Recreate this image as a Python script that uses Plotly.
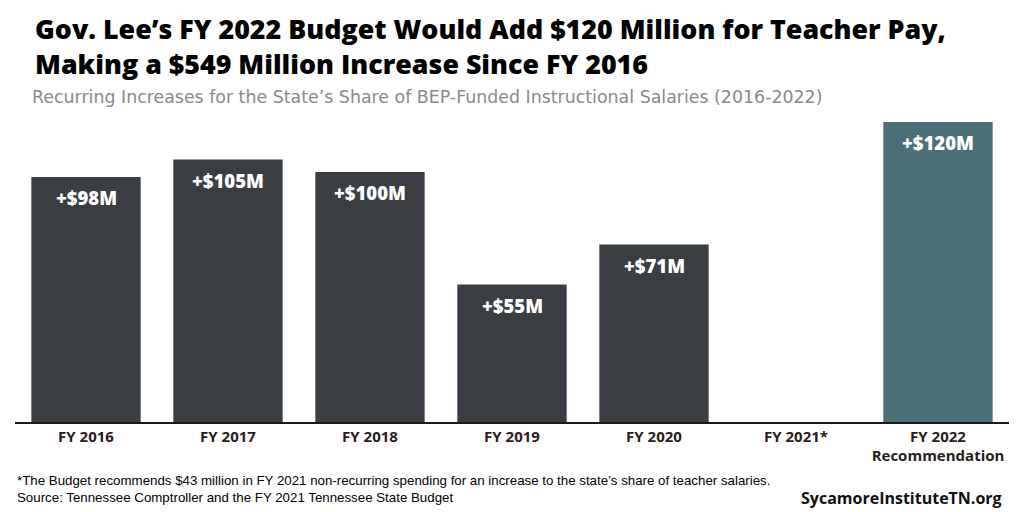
import plotly.graph_objects as go

categories = ["FY 2016", "FY 2017", "FY 2018", "FY 2019", "FY 2020", "FY 2021*", "FY 2022<br>Recommendation"]
values = [98, 105, 100, 55, 71, None, 120]
labels = ["+$98M", "+$105M", "+$100M", "+$55M", "+$71M", "", "+$120M"]
bar_colors = ["#3a3d41", "#3a3d41", "#3a3d41", "#3a3d41", "#3a3d41", "#3a3d41", "#4a6f76"]
title_lines = ["Gov. Lee’s FY 2022 Budget Would Add $120 Million for Teacher Pay,",
               "Making a $549 Million Increase Since FY 2016"]

fig = go.Figure()
fig.add_trace(go.Bar(
    x=categories, y=values, marker=dict(color=bar_colors, line=dict(width=0)),
    hoverinfo="skip",
))

for c, v, t in zip(categories, values, labels):
    if v is None:
        continue
    fig.add_annotation(x=c, y=v, text=t, showarrow=False, yanchor="top", yshift=-6,
                       font=dict(family="Open Sans", size=18.5, color="white", weight=800))

fig.update_layout(
    width=1024, height=512,
    margin=dict(l=15, r=15, t=110, b=90),
    plot_bgcolor="white", paper_bgcolor="white",
    bargap=0.23, showlegend=False,
    xaxis=dict(showline=True, linecolor="#1a1a1a", linewidth=1.5, ticks="",
               tickfont=dict(family="Open Sans", size=15, color="#2b1c1c", weight=700),
               showgrid=False),
    yaxis=dict(range=[0, 124.8], visible=False, showgrid=False),
)

PLOT_TOP, PLOT_BOTTOM = 110, 422
def py(p):
    return (PLOT_BOTTOM - p) / (PLOT_BOTTOM - PLOT_TOP)

fig.add_annotation(xref="paper", yref="paper", x=0.018, y=py(46), xanchor="left", yanchor="middle",
                   align="left", showarrow=False, text="<br>".join(title_lines),
                   font=dict(family="Open Sans", size=26.8, color="black", weight=800))
fig.add_annotation(xref="paper", yref="paper", x=0.015, y=1.0, xanchor="left", yanchor="bottom",
                   yshift=1, showarrow=False,
                   text="Recurring Increases for the State’s Share of BEP-Funded Instructional Salaries (2016-2022)",
                   font=dict(family="DejaVu Sans", size=17.4, color="#8a8a8a"))
fig.add_annotation(xref="paper", yref="paper", x=0.0, y=0, xanchor="left", yanchor="top",
                   yshift=-49, showarrow=False, align="left",
                   text="*The Budget recommends $43 million in FY 2021 non-recurring spending for an increase to the state’s share of teacher salaries.<br>Source: Tennessee Comptroller and the FY 2021 Tennessee State Budget",
                   font=dict(family="Liberation Sans", size=13.3, color="black"))
fig.add_annotation(xref="paper", yref="paper", x=0.995, y=0, xanchor="right", yanchor="top",
                   yshift=-63, showarrow=False,
                   text="SycamoreInstituteTN.org",
                   font=dict(family="Open Sans", size=16, color="#111111", weight=700))

fig.write_html("out.html")
